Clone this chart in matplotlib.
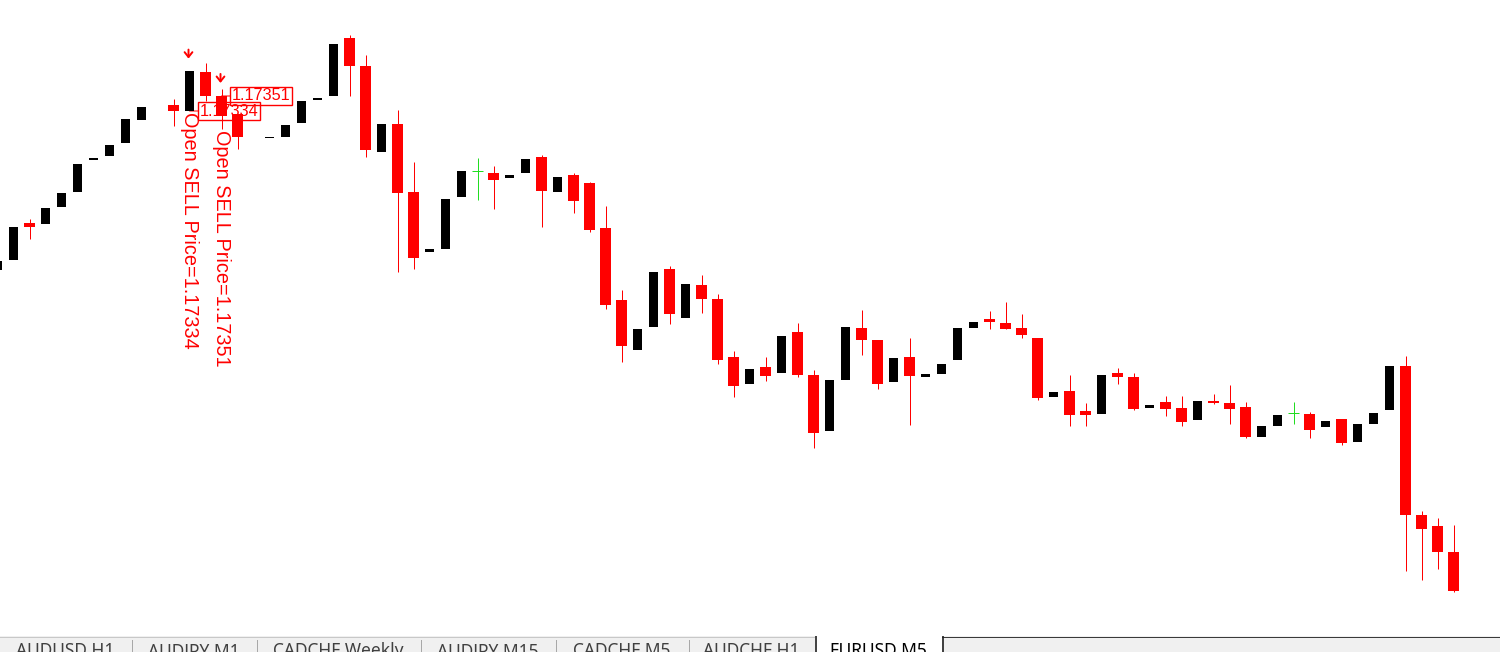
import numpy as np
import matplotlib
matplotlib.use("Agg")
import matplotlib.pyplot as plt
from matplotlib.transforms import offset_copy

nan = np.nan

# ---- data (EURUSD, M5) ----
opens = [1.17154, 1.17165, 1.17207, 1.17206, 1.17225, 1.17242, 1.17279, 1.17283, 1.17298, 1.17324,
         nan, 1.17341, 1.17334, 1.17378, 1.17351, 1.17331, nan, 1.17303, 1.17304, 1.17320,
         1.17346, 1.17351, 1.17417, 1.17385, 1.17288, 1.17319, 1.17242, 1.17174, 1.17178, 1.17237,
         1.17266, 1.17264, 1.17258, 1.17264, 1.17282, 1.17242, 1.17261, 1.17252, 1.17201, 1.17120,
         1.17063, 1.17089, 1.17155, 1.17099, 1.17137, 1.17121, 1.17055, 1.17025, 1.17044, 1.17037,
         1.17084, 1.17035, 1.16971, 1.17029, 1.17088, 1.17074, 1.17027, 1.17055, 1.17033, 1.17036,
         1.17052, 1.17088, 1.17098, 1.17094, 1.17088, 1.17077, 1.17010, 1.17017, 1.16994, 1.16991,
         1.17037, 1.17033, 1.16997, 1.17004, 1.16997, 1.16984, 1.17005, 1.17003, 1.16998, 1.16964,
         1.16977, 1.16992, 1.16991, 1.16976, 1.16985, 1.16959, 1.16979, 1.16995, 1.17045, 1.16876,
         1.16864, 1.16834]
highs = [1.17164, 1.17203, 1.17212, 1.17224, 1.17241, 1.17274, 1.17281, 1.17295, 1.17325, 1.17338,
         nan, 1.17348, 1.17379, 1.17388, 1.17359, 1.17331, nan, 1.17305, 1.17318, 1.17345,
         1.17349, 1.17410, 1.17420, 1.17398, 1.17319, 1.17335, 1.17276, 1.17178, 1.17234, 1.17266,
         1.17281, 1.17272, 1.17261, 1.17280, 1.17284, 1.17259, 1.17264, 1.17254, 1.17226, 1.17131,
         1.17087, 1.17152, 1.17158, 1.17138, 1.17148, 1.17127, 1.17062, 1.17042, 1.17055, 1.17079,
         1.17094, 1.17041, 1.17029, 1.17089, 1.17109, 1.17074, 1.17054, 1.17077, 1.17036, 1.17047,
         1.17088, 1.17095, 1.17107, 1.17117, 1.17104, 1.17077, 1.17015, 1.17035, 1.17003, 1.17035,
         1.17043, 1.17037, 1.17001, 1.17011, 1.17011, 1.17005, 1.17013, 1.17023, 1.17004, 1.16977,
         1.16989, 1.17004, 1.16993, 1.16983, 1.16985, 1.16979, 1.16992, 1.17045, 1.17056, 1.16881,
         1.16873, 1.16865]
lows = [1.17154, 1.17165, 1.17189, 1.17206, 1.17225, 1.17242, 1.17279, 1.17283, 1.17298, 1.17324,
        nan, 1.17317, 1.17334, 1.17345, 1.17314, 1.17291, nan, 1.17303, 1.17304, 1.17320,
        1.17346, 1.17351, 1.17351, 1.17282, 1.17288, 1.17152, 1.17155, 1.17174, 1.17178, 1.17237,
        1.17233, 1.17223, 1.17258, 1.17264, 1.17203, 1.17242, 1.17218, 1.17197, 1.17110, 1.17050,
        1.17063, 1.17089, 1.17093, 1.17099, 1.17105, 1.17047, 1.17010, 1.17025, 1.17028, 1.17037,
        1.17033, 1.16952, 1.16971, 1.17029, 1.17057, 1.17019, 1.17027, 1.16978, 1.17033, 1.17036,
        1.17052, 1.17088, 1.17087, 1.17087, 1.17077, 1.17006, 1.17010, 1.16977, 1.16977, 1.16991,
        1.17025, 1.16995, 1.16997, 1.16988, 1.16977, 1.16984, 1.17002, 1.16979, 1.16963, 1.16964,
        1.16977, 1.16979, 1.16963, 1.16976, 1.16955, 1.16959, 1.16979, 1.16995, 1.16813, 1.16802,
        1.16815, 1.16789]
closes = [1.17164, 1.17203, 1.17203, 1.17224, 1.17241, 1.17274, 1.17281, 1.17295, 1.17325, 1.17338,
          nan, 1.17334, 1.17379, 1.17351, 1.17328, 1.17304, nan, 1.17305, 1.17318, 1.17345,
          1.17349, 1.17410, 1.17385, 1.17290, 1.17319, 1.17241, 1.17167, 1.17178, 1.17234, 1.17266,
          1.17266, 1.17256, 1.17261, 1.17280, 1.17243, 1.17259, 1.17232, 1.17199, 1.17114, 1.17068,
          1.17087, 1.17152, 1.17104, 1.17138, 1.17121, 1.17052, 1.17022, 1.17042, 1.17034, 1.17079,
          1.17035, 1.16969, 1.17029, 1.17089, 1.17074, 1.17025, 1.17054, 1.17034, 1.17036, 1.17047,
          1.17088, 1.17095, 1.17095, 1.17087, 1.17080, 1.17009, 1.17015, 1.16989, 1.16989, 1.17035,
          1.17033, 1.16996, 1.17001, 1.16996, 1.16981, 1.17005, 1.17003, 1.16996, 1.16964, 1.16977,
          1.16989, 1.16992, 1.16972, 1.16983, 1.16958, 1.16979, 1.16992, 1.17045, 1.16876, 1.16860,
          1.16834, 1.16790]

sell_bars = [12, 14]
sell_prices = [1.17334, 1.17351]
sell_texts = ["Open SELL Price=1.17334", "Open SELL Price=1.17351"]

tab_labels = ["AUDUSD,H1", "AUDJPY,M1", "CADCHF,Weekly", "AUDJPY,M15",
              "CADCHF,M5", "AUDCHF,H1", "EURUSD,M5"]
active_tab = "EURUSD,M5"

# ---- layout / style ----
W, H = 1500, 652
TAB_H = 16
PX = 1.0 / 16.0            # one pixel in bar units (bar spacing 16 px)
PT = 0.72                  # one pixel in points at dpi 100
BULL = "#000000"
BEAR = "#FF0000"
DOJI = "#22DD22"

fig = plt.figure(figsize=(15, 6.52), dpi=100)
fig.patch.set_facecolor("white")
ax = fig.add_axes([0, TAB_H / H, 1, 1 - TAB_H / H])
ax.set_facecolor("white")
for s in ax.spines.values():
    s.set_visible(False)
ax.set_xticks([])
ax.set_yticks([])
ax.set_xlim(2.5 * PX, 1502.5 * PX)
ax.set_ylim(1.167390, 1.174598)

x = np.arange(len(opens))
o = np.array(opens); h = np.array(highs); l = np.array(lows); c = np.array(closes)
valid = ~np.isnan(o)
bull = valid & (c > o)
bear = valid & (c < o)
doji = valid & (c == o)

# wicks (bearish and doji bars)
wk = bear | doji
ax.vlines(x[bear], l[bear], h[bear], colors=BEAR, linewidth=PT, zorder=2)
ax.vlines(x[doji], l[doji], h[doji], colors=DOJI, linewidth=PT, zorder=2)
# bodies
ax.bar(x[bull], c[bull] - o[bull], bottom=o[bull], width=9 * PX, color=BULL,
       linewidth=0, zorder=3)
ax.bar(x[bear], o[bear] - c[bear], bottom=c[bear], width=11 * PX, color=BEAR,
       linewidth=0, zorder=3)
ax.hlines(o[doji], x[doji] - 5.5 * PX, x[doji] + 5.5 * PX, colors=DOJI,
          linewidth=PT, zorder=3)

# ---- sell annotations ----
arrow_gap_px = [12.7, 6.0]
for bar_i, price, txt, gap in zip(sell_bars, sell_prices, sell_texts, arrow_gap_px):
    # price label box
    ax.annotate(f"{price:.5f}", xy=(bar_i, price), xytext=(10.5 * PT, 0),
                textcoords="offset points", ha="left", va="center",
                fontsize=11.7, family="Liberation Sans", color=BEAR, zorder=1,
                bbox=dict(boxstyle="square,pad=0.1", fc="none", ec=BEAR, lw=1.0),
                arrowprops=dict(arrowstyle="-", color=BEAR, lw=PT,
                                shrinkA=0, shrinkB=0))
    # vertical text below the bar
    ax.annotate(txt, xy=(bar_i, l[bar_i]), xytext=(0, -1.5 * PT),
                textcoords="offset points", rotation=-90, ha="center", va="top",
                fontsize=14.3, family="Liberation Sans", color=BEAR, zorder=4)
    # down arrow above the bar
    tr = offset_copy(ax.transData, fig=fig, x=-1, y=gap, units="dots")
    ax.annotate("", xy=(bar_i, h[bar_i]), xycoords=tr,
                xytext=(0, 9 * PT), textcoords="offset points",
                arrowprops=dict(arrowstyle="->,head_length=0.35,head_width=0.28",
                                color=BEAR, lw=1.4, shrinkA=0, shrinkB=0),
                zorder=4)

# ---- tab bar ----
tax = fig.add_axes([0, 0, 1, TAB_H / H])
tax.set_xlim(0, W)
tax.set_ylim(H, H - TAB_H)
tax.axis("off")
tab_edges = [0, 131, 256, 420, 555, 688, 815, 942]
tax.add_patch(plt.Rectangle((0, H - TAB_H), W, TAB_H, fc="#F0F0F0", ec="none",
                            zorder=0, clip_on=True))
tax.plot([0, tab_edges[-2]], [H - TAB_H + 0.5] * 2, color="#C8C8C8", lw=PT, zorder=1)
tax.plot([tab_edges[-1], W], [H - TAB_H + 0.5] * 2, color="#3A3A3A", lw=PT, zorder=1)
for lab, x0, x1 in zip(tab_labels, tab_edges[:-1], tab_edges[1:]):
    if lab == active_tab:
        tax.add_patch(plt.Rectangle((x0, H - TAB_H), x1 - x0, TAB_H, fc="white",
                                    ec="none", zorder=1))
        tax.plot([x0 + 0.5, x0 + 0.5], [H, H - TAB_H], color="#202020", lw=1.2, zorder=2)
        tax.plot([x1 + 0.5, x1 + 0.5], [H, H - TAB_H], color="#202020", lw=1.2, zorder=2)
        col = "#000000"
    else:
        col = "#404040"
        if x1 != tab_edges[-2]:
            tax.plot([x1 + 0.5, x1 + 0.5], [H, H - TAB_H + 4], color="#A8A8A8",
                     lw=PT, zorder=2)
    tax.text((x0 + x1) / 2, H - TAB_H + 20.4, lab, ha="center", va="baseline",
             fontsize=12.5, family="Noto Sans", color=col, zorder=3, clip_on=True)

fig.savefig("out.png", dpi=100, facecolor="white")
